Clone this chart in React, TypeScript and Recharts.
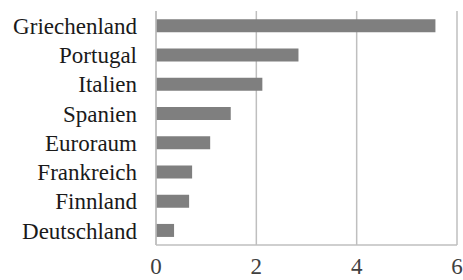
import React from 'react';
import { BarChart, Bar, XAxis, YAxis, CartesianGrid } from 'recharts';

const countries = ['Griechenland', 'Portugal', 'Italien', 'Spanien', 'Euroraum', 'Frankreich', 'Finnland', 'Deutschland'];
const values = [5.57, 2.84, 2.12, 1.49, 1.08, 0.72, 0.66, 0.36];
const xTicks = [0, 2, 4, 6];

const data = countries.map((name, i) => ({ name, value: values[i] }));

const font = { fontFamily: '"Liberation Serif", serif', fontSize: 23 };
const grey = { stroke: '#bfbfbf', strokeWidth: 1.5 };

const App: React.FC = () => {
  return (
    <div style={{ width: 463, height: 280, background: '#fff', overflow: 'hidden' }}>
      <style>{'html, body { margin: 0; overflow: hidden; }'}</style>
      <BarChart
        width={463}
        height={280}
        data={data}
        layout="vertical"
        barCategoryGap="28%"
        margin={{ top: 11, right: 6, bottom: 0, left: 0 }}
      >
        <CartesianGrid horizontal={false} {...grey} />
        <XAxis
          type="number"
          domain={[0, 6]}
          ticks={xTicks}
          tick={{ ...font, fill: '#404040' }}
          axisLine={grey}
          tickLine={false}
          tickSize={0}
          tickMargin={13}
          height={35}
        />
        <XAxis
          xAxisId="top"
          orientation="top"
          type="number"
          domain={[0, 6]}
          tick={false}
          axisLine={grey}
          tickLine={false}
          height={0}
        />
        <YAxis
          type="category"
          dataKey="name"
          width={156}
          tick={{ ...font, fill: '#1a1a1a' }}
          axisLine={grey}
          tickLine={false}
          tickSize={0}
          tickMargin={19}
          interval={0}
        />
        <Bar dataKey="value" fill="#7f7f7f" isAnimationActive={false} />
      </BarChart>
    </div>
  );
};

export default App;
